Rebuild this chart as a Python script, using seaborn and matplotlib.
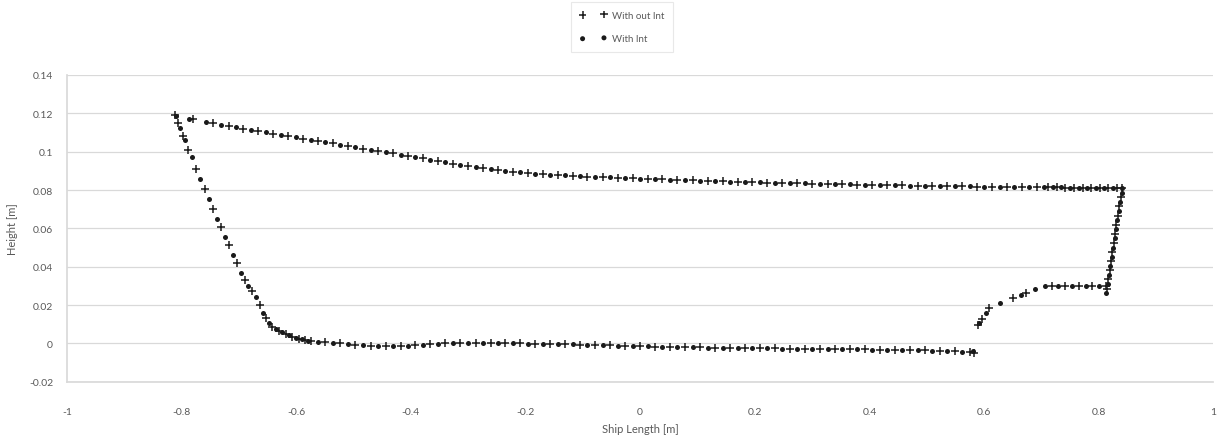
import matplotlib
matplotlib.use("Agg")
import matplotlib.pyplot as plt
import seaborn as sns
import numpy as np
from matplotlib.ticker import MultipleLocator, FuncFormatter

# ---------------- data ----------------
series_names = ["With out Int", "With Int"]

# "With Int" (dots)
with_int_x = [
    # deck
    -0.810, -0.787, -0.758, -0.732, -0.705, -0.679, -0.653, -0.627, -0.600, -0.575,
    -0.549, -0.523, -0.497, -0.470, -0.444, -0.418, -0.392, -0.366, -0.340, -0.314,
    -0.287, -0.261, -0.235, -0.209, -0.183, -0.157, -0.131, -0.105, -0.078, -0.052,
    -0.026, 0.000, 0.026, 0.052, 0.078, 0.105, 0.131, 0.157, 0.183, 0.209,
    0.235, 0.261, 0.287, 0.314, 0.340, 0.366, 0.392, 0.418, 0.444, 0.470,
    0.497, 0.523, 0.549, 0.575, 0.600, 0.627, 0.653, 0.679, 0.705, 0.720,
    0.735, 0.750, 0.765, 0.780, 0.795, 0.810, 0.825, 0.841,
    # stern
    0.840, 0.837, 0.835, 0.832, 0.830, 0.828, 0.825, 0.823, 0.820, 0.818, 0.816, 0.813,
    # shelf
    0.801, 0.777, 0.753, 0.729, 0.706,
    # stern knuckle curve
    0.688, 0.665, 0.628, 0.603, 0.592, 0.580,
    # bottom
    0.562, 0.536, 0.510, 0.484, 0.457, 0.431, 0.405, 0.379, 0.353, 0.327,
    0.300, 0.274, 0.248, 0.222, 0.196, 0.170, 0.144, 0.118, 0.092, 0.065,
    0.039, 0.013, -0.013, -0.039, -0.065, -0.092, -0.118, -0.144, -0.170, -0.196,
    -0.222, -0.248, -0.274, -0.300, -0.327, -0.353, -0.379, -0.405, -0.431, -0.457,
    -0.484, -0.510, -0.536, -0.562,
    # bilge and bow
    -0.580, -0.590, -0.601, -0.612, -0.624, -0.636, -0.648, -0.658, -0.671, -0.684,
    -0.697, -0.711, -0.724, -0.738, -0.752, -0.767, -0.781, -0.794, -0.803,
]
with_int_y = [
    0.1188, 0.1172, 0.1155, 0.1140, 0.1128, 0.1112, 0.1100, 0.1088, 0.1075, 0.1062,
    0.1050, 0.1036, 0.1022, 0.1010, 0.0998, 0.0984, 0.0972, 0.0958, 0.0944, 0.0932,
    0.0920, 0.0910, 0.0900, 0.0892, 0.0885, 0.0880, 0.0877, 0.0872, 0.0869, 0.0866,
    0.0863, 0.0860, 0.0857, 0.0854, 0.0851, 0.0849, 0.0846, 0.0844, 0.0842, 0.0840,
    0.0838, 0.0836, 0.0834, 0.0832, 0.0830, 0.0829, 0.0827, 0.0826, 0.0824, 0.0823,
    0.0822, 0.0821, 0.0820, 0.0819, 0.0818, 0.0817, 0.0816, 0.0815, 0.0815, 0.0814,
    0.0814, 0.0813, 0.0813, 0.0812, 0.0812, 0.0812, 0.0811, 0.0810,
    0.0785, 0.0738, 0.0690, 0.0643, 0.0596, 0.0548, 0.0500, 0.0453, 0.0405, 0.0358,
    0.0310, 0.0264,
    0.0299, 0.0299, 0.0298, 0.0298, 0.0297,
    0.0285, 0.0255, 0.0212, 0.0160, 0.0105, -0.0040,
    -0.0042, -0.0039, -0.0037, -0.0036, -0.0035, -0.0034, -0.0032, -0.0031, -0.0030, -0.0029,
    -0.0028, -0.0028, -0.0027, -0.0026, -0.0025, -0.0024, -0.0023, -0.0022, -0.0020, -0.0019,
    -0.0017, -0.0015, -0.0013, -0.0011, -0.0009, -0.0007, -0.0005, -0.0004, -0.0003, -0.0001,
    0.0000, 0.0001, 0.0002, 0.0002, 0.0001, -0.0002, -0.0007, -0.0011, -0.0014, -0.0015,
    -0.0010, -0.0003, 0.0003, 0.0010,
    0.0015, 0.0021, 0.0030, 0.0043, 0.0058, 0.0073, 0.0105, 0.0160, 0.0240, 0.0302,
    0.0365, 0.0460, 0.0555, 0.0650, 0.0755, 0.0860, 0.0970, 0.1063, 0.1123,
]

# "With out Int" (plus signs)
without_int_x = [
    # deck
    -0.812, -0.780, -0.745, -0.718, -0.692, -0.666, -0.640, -0.614, -0.588, -0.562,
    -0.536, -0.510, -0.484, -0.457, -0.431, -0.405, -0.379, -0.353, -0.327, -0.300,
    -0.274, -0.248, -0.222, -0.196, -0.170, -0.144, -0.118, -0.092, -0.065, -0.039,
    -0.013, 0.013, 0.039, 0.065, 0.092, 0.118, 0.144, 0.170, 0.196, 0.222,
    0.248, 0.274, 0.300, 0.327, 0.353, 0.379, 0.405, 0.431, 0.457, 0.484,
    0.510, 0.536, 0.562, 0.588, 0.614, 0.640, 0.666, 0.692, 0.712, 0.727,
    0.742, 0.757, 0.772, 0.787, 0.802, 0.817, 0.832,
    # stern
    0.841, 0.839, 0.836, 0.834, 0.831, 0.829, 0.826, 0.824, 0.822, 0.819, 0.817, 0.814,
    # shelf
    0.813, 0.789, 0.765, 0.741, 0.718,
    # stern knuckle curve
    0.674, 0.650, 0.609, 0.597, 0.589, 0.583,
    # bottom
    0.575, 0.549, 0.523, 0.497, 0.470, 0.444, 0.418, 0.392, 0.366, 0.340,
    0.314, 0.287, 0.261, 0.235, 0.209, 0.183, 0.157, 0.131, 0.105, 0.078,
    0.052, 0.026, 0.000, -0.026, -0.052, -0.078, -0.105, -0.131, -0.157, -0.183,
    -0.209, -0.235, -0.261, -0.287, -0.314, -0.340, -0.366, -0.392, -0.418, -0.444,
    -0.470, -0.497, -0.523, -0.549,
    # bilge and bow
    -0.575, -0.585, -0.596, -0.607, -0.618, -0.630, -0.642, -0.653, -0.664, -0.677,
    -0.690, -0.704, -0.717, -0.731, -0.745, -0.760, -0.774, -0.788, -0.798, -0.806,
]
without_int_y = [
    0.1190, 0.1170, 0.1150, 0.1136, 0.1120, 0.1106, 0.1094, 0.1081, 0.1068, 0.1056,
    0.1043, 0.1029, 0.1016, 0.1004, 0.0991, 0.0978, 0.0965, 0.0951, 0.0938, 0.0926,
    0.0915, 0.0905, 0.0896, 0.0888, 0.0882, 0.0878, 0.0874, 0.0870, 0.0867, 0.0864,
    0.0861, 0.0858, 0.0855, 0.0852, 0.0850, 0.0847, 0.0845, 0.0843, 0.0841, 0.0839,
    0.0837, 0.0835, 0.0833, 0.0831, 0.0829, 0.0828, 0.0826, 0.0825, 0.0824, 0.0822,
    0.0821, 0.0820, 0.0819, 0.0818, 0.0817, 0.0816, 0.0815, 0.0815, 0.0814, 0.0814,
    0.0813, 0.0813, 0.0812, 0.0812, 0.0811, 0.0811, 0.0810,
    0.0808, 0.0762, 0.0715, 0.0667, 0.0620, 0.0572, 0.0525, 0.0477, 0.0430, 0.0382,
    0.0334, 0.0286,
    0.0300, 0.0299, 0.0298, 0.0298, 0.0297,
    0.0264, 0.0238, 0.0186, 0.0130, 0.0095, -0.0048,
    -0.0044, -0.0040, -0.0038, -0.0036, -0.0036, -0.0034, -0.0033, -0.0031, -0.0030, -0.0030,
    -0.0029, -0.0028, -0.0027, -0.0026, -0.0025, -0.0024, -0.0023, -0.0022, -0.0021, -0.0020,
    -0.0018, -0.0016, -0.0014, -0.0012, -0.0010, -0.0008, -0.0006, -0.0005, -0.0004, -0.0002,
    0.0000, 0.0001, 0.0002, 0.0002, 0.0002, 0.0000, -0.0005, -0.0009, -0.0013, -0.0015,
    -0.0014, -0.0006, 0.0000, 0.0006,
    0.0013, 0.0018, 0.0025, 0.0036, 0.0050, 0.0065, 0.0085, 0.0134, 0.0200, 0.0272,
    0.0333, 0.0420, 0.0512, 0.0605, 0.0700, 0.0806, 0.0910, 0.1010, 0.1080, 0.1150,
]

x_ticks = [-1, -0.8, -0.6, -0.4, -0.2, 0, 0.2, 0.4, 0.6, 0.8, 1]
y_ticks = [-0.02, 0, 0.02, 0.04, 0.06, 0.08, 0.1, 0.12, 0.14]
x_label = "Ship Length [m]"
y_label = "Height [m]"

# ---------------- plot ----------------
sns.set_theme(style="white")
plt.rcParams["font.family"] = ["Lato", "DejaVu Sans"]

fig, ax = plt.subplots(figsize=(12.17, 4.39), dpi=100)
fig.subplots_adjust(left=0.055, right=0.997, top=0.827, bottom=0.128)

sns.scatterplot(x=without_int_x, y=without_int_y, ax=ax, marker="+", color="#1a1a1a",
                s=28, linewidth=1.1, label=series_names[0], zorder=3)
sns.scatterplot(x=with_int_x, y=with_int_y, ax=ax, marker="o", color="#1a1a1a",
                s=13, linewidth=0, label=series_names[1], zorder=4)

ax.set_xlim(-1, 1)
ax.set_ylim(-0.02, 0.14)
ax.set_xticks(x_ticks)
ax.set_yticks(y_ticks)
fmt = FuncFormatter(lambda v, p: f"{v:g}" if abs(v) > 1e-9 else "0")
ax.xaxis.set_major_formatter(fmt)
ax.yaxis.set_major_formatter(fmt)

ax.grid(axis="y", color="#d9d9d9", linewidth=0.9)
ax.grid(axis="x", visible=False)
for s in ["top", "right"]:
    ax.spines[s].set_visible(False)
ax.spines["left"].set_color("#d9d9d9")
ax.spines["bottom"].set_color("#d9d9d9")
ax.tick_params(axis="x", colors="#595959", labelsize=7.5, length=0, pad=18)
ax.tick_params(axis="y", colors="#595959", labelsize=7.5, length=0, pad=10)

ax.set_xlabel(x_label, color="#595959", fontsize=8, labelpad=5)
ax.set_ylabel(y_label, color="#595959", fontsize=8, labelpad=8)

leg = ax.legend(loc="upper center", bbox_to_anchor=(0.511, 1.0), bbox_transform=fig.transFigure,
                scatterpoints=2, fontsize=7, frameon=True, fancybox=False,
                edgecolor="#e3e3e3", borderpad=0.9, labelspacing=1.5, handletextpad=0.5,
                handlelength=2.8, borderaxespad=0.3)
for t in leg.get_texts():
    t.set_color("#595959")
leg.get_frame().set_linewidth(0.8)

fig.savefig("out.png", dpi=100)
